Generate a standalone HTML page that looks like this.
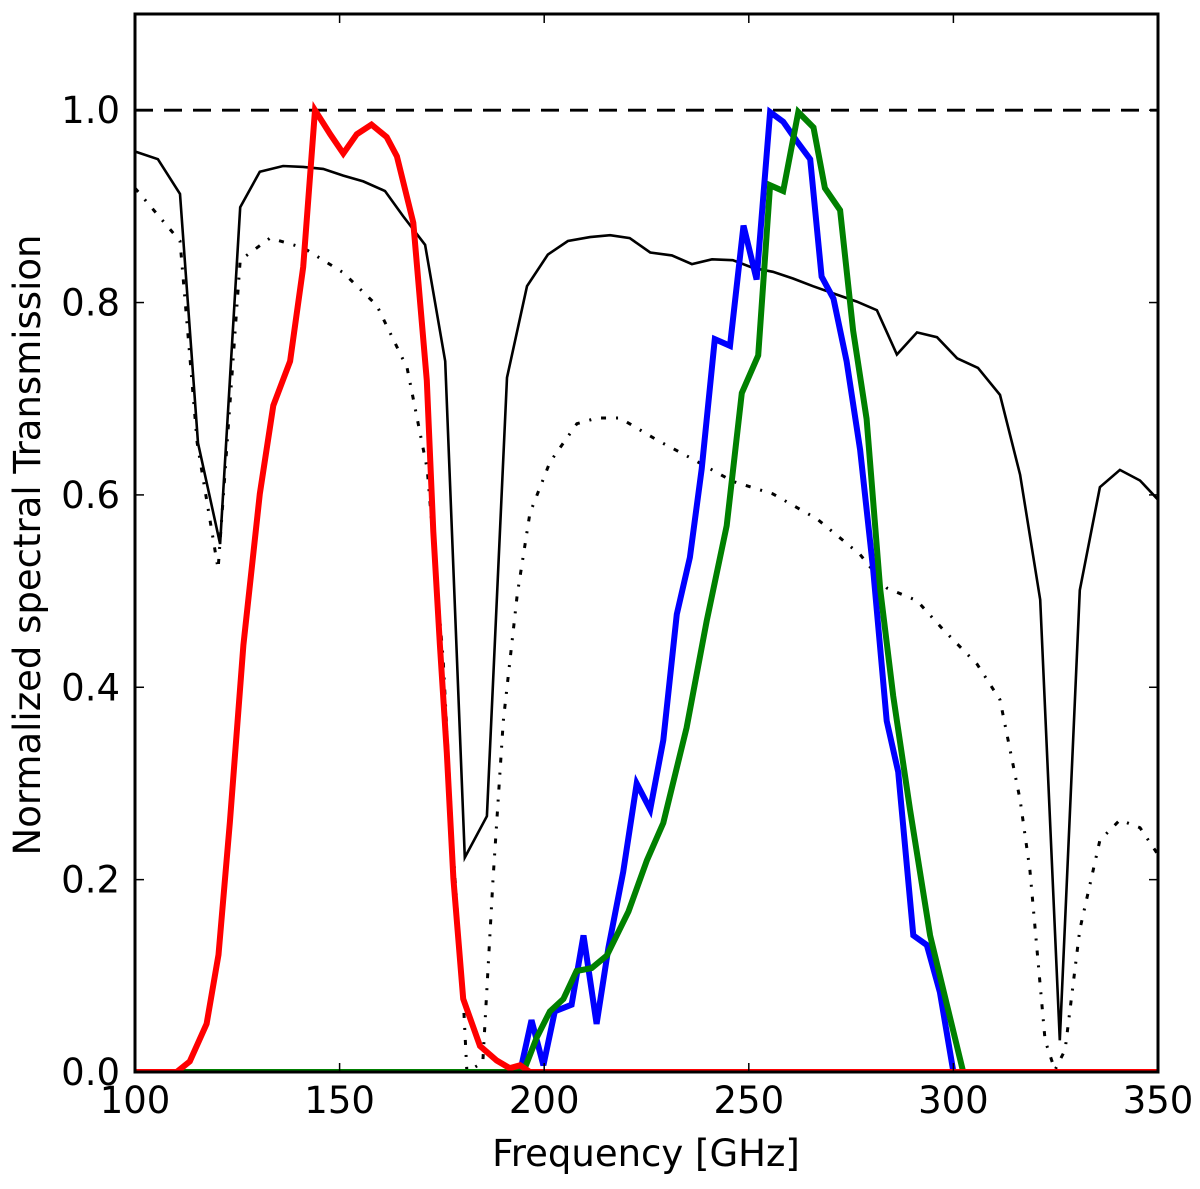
<!DOCTYPE html>
<html><head><meta charset="utf-8"><style>
html,body{margin:0;padding:0;background:#fff;}
svg text{font-family:"DejaVu Sans","Liberation Sans",sans-serif;fill:#000;}
</style></head><body>
<svg id="chart" width="1200" height="1184" viewBox="0 0 1200 1184" xmlns="http://www.w3.org/2000/svg">
<rect x="0" y="0" width="1200" height="1184" fill="#fff"/>
<g id="marks"></g>
<g id="axes"></g>
<text x="646" y="1166" font-size="37" text-anchor="middle">Frequency [GHz]</text>
<text transform="translate(40,545) rotate(-90)" font-size="37" text-anchor="middle">Normalized spectral Transmission</text>
</svg>
<script>
const xTicks=[100,150,200,250,300,350];
const yTicks=[0.0,0.2,0.4,0.6,0.8,1.0];
const atmFreq=[100,105.6,111,115.4,120.8,125.7,130.5,136.2,141.1,146,150.9,155.8,161.1,165.5,170.9,175.8,180.6,186,190.9,195.8,200.9,205.8,211.2,216.1,220.9,225.9,231.2,236.1,241,246.1,251,255.9,260.8,265.7,271,276.4,281.3,286.2,291.1,296,300.9,306,311.4,316.3,321.2,326,330.9,335.8,340.7,345.6,350];
const atmVal=[.957,.949,.913,.654,.549,.899,.936,.942,.941,.939,.932,.926,.916,.89,.86,.739,.223,.266,.722,.817,.85,.864,.868,.87,.867,.852,.849,.84,.845,.844,.836,.832,.825,.817,.809,.801,.792,.746,.769,.764,.742,.732,.704,.621,.491,.033,.501,.608,.626,.615,.595];
const atm2Freq=[100,111,115.2,120.3,125.7,133,141.1,150.9,159.1,166.5,171.4,175.3,177.7,180.2,181.1,185,187.5,190,193.4,196.5,201.4,208,212.9,218.5,227.6,236.4,246.1,255.9,266.7,277.2,283.8,291.1,297.5,305.8,311.4,316.3,318.7,322.4,324.8,327.3,330.9,335.8,340.7,345.6,350];
const atm2Val=[.919,.864,.654,.523,.844,.867,.857,.831,.797,.732,.627,.43,.234,.077,0,.01,.2,.365,.496,.581,.634,.674,.68,.68,.657,.637,.614,.601,.575,.538,.503,.49,.46,.424,.387,.283,.21,.033,.002,.023,.148,.241,.262,.254,.226];
const redFreq=[100,110.2,113.4,117.5,120.4,123.2,126.5,130.5,133.8,137.9,141.1,144,147.7,150.9,154.2,157.8,161.5,164,168,171.3,172.9,174.5,176.2,177.8,180.2,184.3,188.4,191.6,194.1,196.5,350];
const redVal=[0,0,.011,.05,.122,.26,.444,.601,.693,.739,.837,1.0,.975,.955,.975,.985,.972,.952,.883,.719,.562,.444,.332,.201,.076,.027,.012,.004,.007,0,0];
const blueFreq=[100,194.1,196.9,199.8,202.6,206.7,209.6,212.8,215.7,219.3,222.6,225.9,229.1,232.4,235.6,238.5,241.7,245.4,248.7,251.9,255.2,258.4,261.7,265,267.8,270.7,273.9,277.2,280.4,283.7,286.5,290.2,293.5,296.7,300,350];
const blueVal=[0,0,.054,.007,.063,.07,.142,.05,.129,.208,.3,.273,.345,.476,.535,.627,.762,.755,.88,.824,.998,.988,.968,.949,.827,.804,.739,.647,.522,.365,.312,.142,.132,.083,0,0];
const greenFreq=[100,194.9,198.2,201.4,204.7,207.9,211.6,215.3,220.6,225.1,229.1,234.8,239.7,244.6,248.3,252.3,255.2,258.4,262.1,265.8,268.6,272.3,275.5,278.8,282.1,285.3,289.4,294.3,298.4,302.4,350];
const greenVal=[0,0,.036,.063,.076,.105,.108,.121,.167,.22,.259,.358,.469,.568,.706,.745,.922,.916,.998,.982,.919,.896,.771,.679,.502,.391,.273,.142,.07,0,0];
const refLevel=[1.0];

const X0=135,X1=1158,Y0=1072,Y1=14;
const xMin=100,xMax=350,yMin=0,yMax=1.1;
const sx=v=>X0+(v-xMin)/(xMax-xMin)*(X1-X0);
const sy=v=>Y0-(v-yMin)/(yMax-yMin)*(Y0-Y1);
const NS="http://www.w3.org/2000/svg";
const marks=document.getElementById('marks');
const axes=document.getElementById('axes');
function mk(tag,attrs,parent){const e=document.createElementNS(NS,tag);for(const k in attrs)e.setAttribute(k,attrs[k]);parent.appendChild(e);return e;}
const clip=mk('clipPath',{id:'pc'},document.getElementById('chart'));
mk('rect',{x:X0,y:Y1,width:X1-X0,height:Y0-Y1},clip);
marks.setAttribute('clip-path','url(#pc)');
function line(fs,vs,color,w,dash,name){
  const d=fs.map((f,i)=>(i?'L':'M')+sx(f).toFixed(1)+','+sy(vs[i]).toFixed(1)).join(' ');
  const p=mk('path',{d:d,fill:'none',stroke:color,'stroke-width':w,'stroke-linejoin':'miter'},marks);
  if(dash)p.setAttribute('stroke-dasharray',dash);
  
  
}
const rl=mk('line',{x1:sx(xMin),x2:sx(xMax),y1:sy(refLevel[0]),y2:sy(refLevel[0]),stroke:'#000','stroke-width':2.8,'stroke-dasharray':'18,11'},marks);


line(atmFreq,atmVal,'#000',2.6,null,'atmosphere-transmission-line');
line(atm2Freq,atm2Val,'#000',3,'5,10,2,10','atmosphere-transmission-dashdot-line');
line(blueFreq,blueVal,'#0000ff',6,null,'blue-band-line');
line(greenFreq,greenVal,'#008000',6,null,'green-band-line');
line(redFreq,redVal,'#ff0000',6,null,'red-band-line');
const fr=mk('rect',{x:X0,y:Y1,width:X1-X0,height:Y0-Y1,fill:'none',stroke:'#000','stroke-width':3},axes);


xTicks.forEach(t=>{
  const x=sx(t);
  mk('line',{x1:x,x2:x,y1:Y0,y2:Y0-9,stroke:'#000','stroke-width':1.5},axes);
  mk('line',{x1:x,x2:x,y1:Y1,y2:Y1+9,stroke:'#000','stroke-width':1.5},axes);
  const tx=mk('text',{x:x,y:1113,'font-size':37,'text-anchor':'middle'},axes);
  tx.textContent=String(t);
  
  
});
yTicks.forEach(t=>{
  const y=sy(t);
  mk('line',{x1:X0,x2:X0+9,y1:y,y2:y,stroke:'#000','stroke-width':1.5},axes);
  mk('line',{x1:X1,x2:X1-9,y1:y,y2:y,stroke:'#000','stroke-width':1.5},axes);
  const ty=mk('text',{x:120,y:y+13,'font-size':37,'text-anchor':'end'},axes);
  ty.textContent=t.toFixed(1);
  
  
});
</script>
</body></html>
